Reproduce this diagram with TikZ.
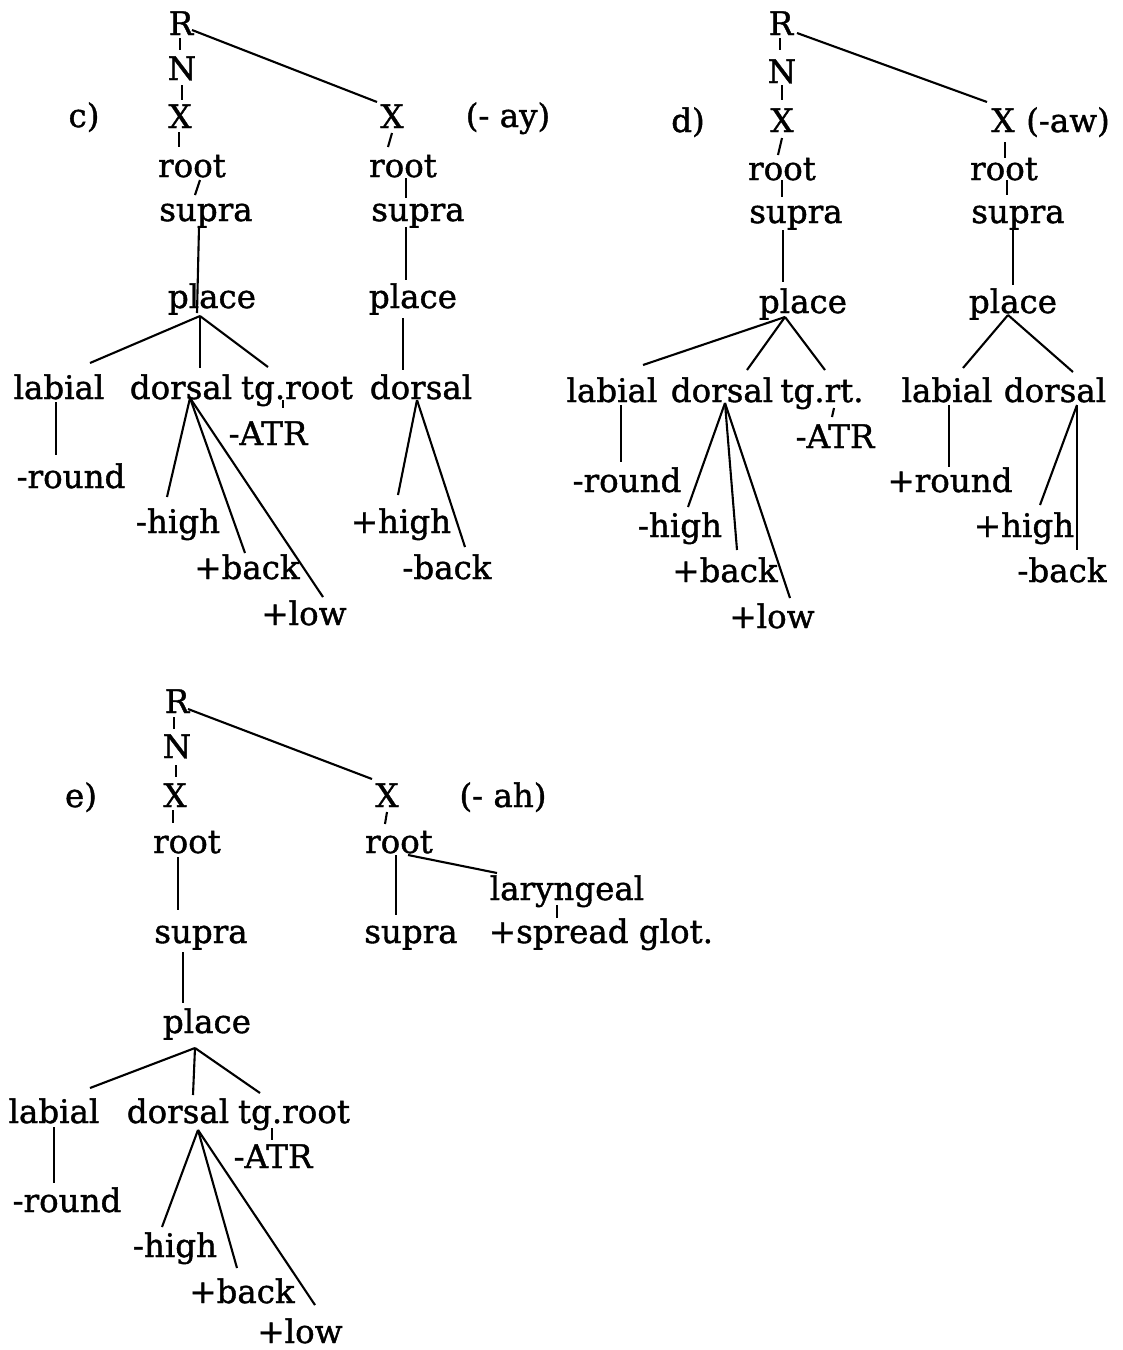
\documentclass[tikz,border=0pt]{standalone}
\usepackage{fontspec}
\setmainfont{DejaVu Serif}[FakeBold=1.2]
\begin{document}
\begin{tikzpicture}[x=1pt,y=-1pt,
  t/.style={inner sep=0pt, anchor=base, font=\fontsize{32.5}{39}\selectfont},
  ln/.style={line width=2.1pt}]
\useasboundingbox[fill=white] (0,0) rectangle (1123,1350);
% ---------------- tree c ----------------
\node[t] (cR) at (181,35) {R};
\node[t] (cN) at (182,80) {N};
\node[t] (cX1) at (180,128) {X};
\node[t] (clab) at (84,127) {c)};
\node[t] (cX2) at (392,128) {X};
\node[t] (cay) at (508,127) {(- ay)};
\node[t] (croot1) at (192,177) {root};
\node[t] (croot2) at (403,177) {root};
\node[t] (csupra1) at (206,221) {supra};
\node[t] (csupra2) at (418,221) {supra};
\node[t] (cplace1) at (212,308) {place};
\node[t] (cplace2) at (413,308) {place};
\node[t] (clabial) at (59,399) {labial};
\node[t] (cdors1) at (181,399) {dorsal};
\node[t] (ctgr) at (297,399) {tg.root};
\node[t] (cdors2) at (421,399) {dorsal};
\node[t] (cround) at (71,488) {-round};
\node[t] (catr) at (268,445) {-ATR};
\node[t] (chigh1) at (178,533) {-high};
\node[t] (cback1) at (247,579) {+back};
\node[t] (clow) at (304,625) {+low};
\node[t] (chigh2) at (401,533) {+high};
\node[t] (cback2) at (447,579) {-back};
\draw[ln] ([shift={(-1,3)}]cR.base) -- ([shift={(-2,-30)}]cN.base);
\draw[ln] ([shift={(0,5)}]cN.base) -- ([shift={(2,-28)}]cX1.base);
\draw[ln] ([shift={(11,-5)}]cR.base) -- ([shift={(-15,-26)}]cX2.base);
\draw[ln] ([shift={(-1,4)}]cX1.base) -- ([shift={(-13,-30)}]croot1.base);
\draw[ln] ([shift={(0,5)}]cX2.base) -- ([shift={(-15,-30)}]croot2.base);
\draw[ln] ([shift={(8,3)}]croot1.base) -- ([shift={(-11,-26)}]csupra1.base);
\draw[ln] ([shift={(3,1)}]croot2.base) -- ([shift={(-12,-23)}]csupra2.base);
\draw[ln] ([shift={(-7,6)}]csupra1.base) -- ([shift={(-15,5)}]cplace1.base);
\draw[ln] ([shift={(-12,6)}]csupra2.base) -- ([shift={(-7,-28)}]cplace2.base);
\draw[ln] ([shift={(-12,8)}]cplace1.base) -- ([shift={(31,-36)}]clabial.base);
\draw[ln] ([shift={(-12,8)}]cplace1.base) -- ([shift={(19,-31)}]cdors1.base);
\draw[ln] ([shift={(-12,8)}]cplace1.base) -- ([shift={(-29,-32)}]ctgr.base);
\draw[ln] ([shift={(-10,10)}]cplace2.base) -- ([shift={(-18,-29)}]cdors2.base);
\draw[ln] ([shift={(-3,3)}]clabial.base) -- ([shift={(-15,-33)}]cround.base);
\draw[ln] ([shift={(-14,1)}]ctgr.base) -- ([shift={(15,-37)}]catr.base);
\draw[ln] ([shift={(9,-1)}]cdors1.base) -- ([shift={(-11,-36)}]chigh1.base);
\draw[ln] ([shift={(9,-1)}]cdors1.base) -- ([shift={(-2,-26)}]cback1.base);
\draw[ln] ([shift={(9,-1)}]cdors1.base) -- ([shift={(19,-28)}]clow.base);
\draw[ln] ([shift={(-4,1)}]cdors2.base) -- ([shift={(-3,-38)}]chigh2.base);
\draw[ln] ([shift={(-4,1)}]cdors2.base) -- ([shift={(18,-32)}]cback2.base);
% ---------------- tree d ----------------
\node[t] (dR) at (781,35) {R};
\node[t] (dN) at (782,83) {N};
\node[t] (dX1) at (782,132) {X};
\node[t] (dlab) at (688,132) {d)};
\node[t] (dX2) at (1003,132) {X};
\node[t] (daw) at (1068,132) {(-aw)};
\node[t] (droot1) at (782,180) {root};
\node[t] (droot2) at (1004,180) {root};
\node[t] (dsupra1) at (796,223) {supra};
\node[t] (dsupra2) at (1018,223) {supra};
\node[t] (dplace1) at (803,313) {place};
\node[t] (dplace2) at (1013,313) {place};
\node[t] (dlabial1) at (612,402) {labial};
\node[t] (ddors1) at (722,402) {dorsal};
\node[t] (dtgrt) at (822,402) {tg.rt.};
\node[t] (dlabial2) at (947,402) {labial};
\node[t] (ddors2) at (1055,402) {dorsal};
\node[t] (dround1) at (627,492) {-round};
\node[t] (datr) at (835,448) {-ATR};
\node[t] (dhigh1) at (680,537) {-high};
\node[t] (dback1) at (725,582) {+back};
\node[t] (dlow) at (772,628) {+low};
\node[t] (dround2) at (950,492) {+round};
\node[t] (dhigh2) at (1024,537) {+high};
\node[t] (dback2) at (1062,582) {-back};
\draw[ln] ([shift={(-1,3)}]dR.base) -- ([shift={(-2,-33)}]dN.base);
\draw[ln] ([shift={(0,2)}]dN.base) -- ([shift={(0,-32)}]dX1.base);
\draw[ln] ([shift={(16,-2)}]dR.base) -- ([shift={(-16,-30)}]dX2.base);
\draw[ln] ([shift={(0,6)}]dX1.base) -- ([shift={(-4,-25)}]droot1.base);
\draw[ln] ([shift={(2,10)}]dX2.base) -- ([shift={(1,-22)}]droot2.base);
\draw[ln] ([shift={(0,0)}]droot1.base) -- ([shift={(-14,-26)}]dsupra1.base);
\draw[ln] ([shift={(3,0)}]droot2.base) -- ([shift={(-11,-28)}]dsupra2.base);
\draw[ln] ([shift={(-13,7)}]dsupra1.base) -- ([shift={(-20,-31)}]dplace1.base);
\draw[ln] ([shift={(-5,7)}]dsupra2.base) -- ([shift={(0,-28)}]dplace2.base);
\draw[ln] ([shift={(-18,4)}]dplace1.base) -- ([shift={(31,-37)}]dlabial1.base);
\draw[ln] ([shift={(-18,4)}]dplace1.base) -- ([shift={(25,-32)}]ddors1.base);
\draw[ln] ([shift={(-18,4)}]dplace1.base) -- ([shift={(3,-32)}]dtgrt.base);
\draw[ln] ([shift={(-5,2)}]dplace2.base) -- ([shift={(16,-34)}]dlabial2.base);
\draw[ln] ([shift={(-5,2)}]dplace2.base) -- ([shift={(18,-30)}]ddors2.base);
\draw[ln] ([shift={(9,3)}]dlabial1.base) -- ([shift={(-6,-30)}]dround1.base);
\draw[ln] ([shift={(12,6)}]dtgrt.base) -- ([shift={(-3,-31)}]datr.base);
\draw[ln] ([shift={(3,1)}]ddors1.base) -- ([shift={(8,-30)}]dhigh1.base);
\draw[ln] ([shift={(3,1)}]ddors1.base) -- ([shift={(12,-32)}]dback1.base);
\draw[ln] ([shift={(3,1)}]ddors1.base) -- ([shift={(18,-30)}]dlow.base);
\draw[ln] ([shift={(2,3)}]dlabial2.base) -- ([shift={(-1,-25)}]dround2.base);
\draw[ln] ([shift={(22,3)}]ddors2.base) -- ([shift={(16,-32)}]dhigh2.base);
\draw[ln] ([shift={(22,3)}]ddors2.base) -- ([shift={(15,-32)}]dback2.base);
% ---------------- tree e ----------------
\node[t] (eR) at (177,713) {R};
\node[t] (eN) at (177,758) {N};
\node[t] (eX1) at (175,807) {X};
\node[t] (elab) at (81,807) {e)};
\node[t] (eX2) at (387,807) {X};
\node[t] (eah) at (503,807) {(- ah)};
\node[t] (eroot1) at (187,853) {root};
\node[t] (eroot2) at (399,853) {root};
\node[t] (esupra1) at (201,943) {supra};
\node[t] (esupra2) at (411,943) {supra};
\node[t] (elaryn) at (567,900) {laryngeal};
\node[t] (espread) at (601,943) {+spread glot.};
\node[t] (eplace) at (207,1033) {place};
\node[t] (elabial) at (54,1123) {labial};
\node[t] (edors) at (178,1123) {dorsal};
\node[t] (etgr) at (294,1123) {tg.root};
\node[t] (eround) at (67,1212) {-round};
\node[t] (eatr) at (273,1168) {-ATR};
\node[t] (ehigh) at (175,1257) {-high};
\node[t] (eback) at (242,1303) {+back};
\node[t] (elow) at (300,1343) {+low};
\draw[ln] ([shift={(-3,4)}]eR.base) -- ([shift={(-3,-29)}]eN.base);
\draw[ln] ([shift={(-1,7)}]eN.base) -- ([shift={(1,-30)}]eX1.base);
\draw[ln] ([shift={(11,-4)}]eR.base) -- ([shift={(-15,-28)}]eX2.base);
\draw[ln] ([shift={(-2,3)}]eX1.base) -- ([shift={(-14,-30)}]eroot1.base);
\draw[ln] ([shift={(0,5)}]eX2.base) -- ([shift={(-14,-29)}]eroot2.base);
\draw[ln] ([shift={(-9,4)}]eroot1.base) -- ([shift={(-23,-33)}]esupra1.base);
\draw[ln] ([shift={(-3,2)}]eroot2.base) -- ([shift={(-15,-28)}]esupra2.base);
\draw[ln] ([shift={(9,2)}]eroot2.base) -- ([shift={(-70,-27)}]elaryn.base);
\draw[ln] ([shift={(-10,5)}]elaryn.base) -- ([shift={(-44,-25)}]espread.base);
\draw[ln] ([shift={(-18,9)}]esupra1.base) -- ([shift={(-24,-30)}]eplace.base);
\draw[ln] ([shift={(-12,15)}]eplace.base) -- ([shift={(36,-35)}]elabial.base);
\draw[ln] ([shift={(-12,15)}]eplace.base) -- ([shift={(15,-28)}]edors.base);
\draw[ln] ([shift={(-12,15)}]eplace.base) -- ([shift={(-34,-30)}]etgr.base);
\draw[ln] ([shift={(0,4)}]elabial.base) -- ([shift={(-13,-29)}]eround.base);
\draw[ln] ([shift={(-22,5)}]etgr.base) -- ([shift={(-1,-28)}]eatr.base);
\draw[ln] ([shift={(20,7)}]edors.base) -- ([shift={(-13,-30)}]ehigh.base);
\draw[ln] ([shift={(20,7)}]edors.base) -- ([shift={(-5,-35)}]eback.base);
\draw[ln] ([shift={(20,7)}]edors.base) -- ([shift={(15,-38)}]elow.base);
\end{tikzpicture}
\end{document}
